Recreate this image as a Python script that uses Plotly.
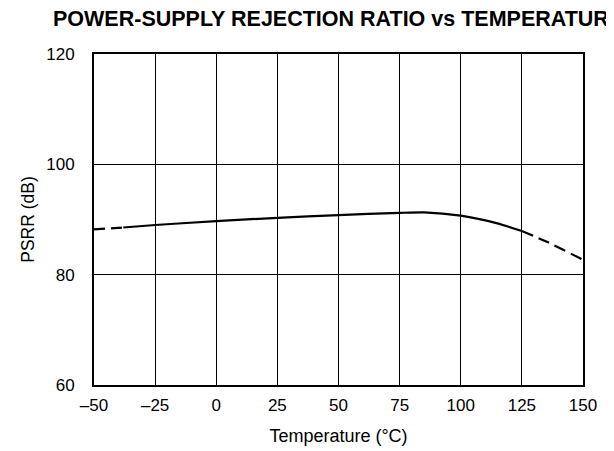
import plotly.graph_objects as go

temps = [-50, -38, -25, 0, 25, 50, 75, 85, 100, 115, 125, 135, 150]
psrr = [88.2, 88.55, 89.0, 89.7, 90.3, 90.8, 91.2, 91.3, 90.7, 89.3, 87.9, 86.0, 82.7]
x_ticks = [-50, -25, 0, 25, 50, 75, 100, 125, 150]
x_tick_text = ["–50", "–25", "0", "25", "50", "75", "100", "125", "150"]
y_ticks = [60, 80, 100, 120]

fig = go.Figure()
segs = [(0, 2, "11px,6px"), (1, 11, "solid"), (10, 13, "12px,6px")]
for a, b, d in segs:
    fig.add_trace(go.Scatter(x=temps[a:b], y=psrr[a:b], mode="lines",
                             line=dict(color="black", width=2.2, dash=d, shape="spline", smoothing=0.6),
                             showlegend=False, hoverinfo="skip"))

font = "Liberation Sans, Arial, sans-serif"
W, H = 606, 443
L, R, T, B = 86, 31, 46, 66
pw, ph = W - L - R, H - T - B
fig.update_layout(
    width=W, height=H,
    margin=dict(l=L, r=R, t=T, b=B, autoexpand=False),
    paper_bgcolor="white", plot_bgcolor="white",
    font=dict(family=font, size=17, color="black"),
    annotations=[dict(text="<b>POWER-SUPPLY REJECTION RATIO vs TEMPERATURE</b>",
                      xref="paper", yref="paper", x=(43 - L) / pw, y=1 + (T - 11) / ph,
                      xanchor="left", yanchor="middle", showarrow=False,
                      font=dict(size=21.5, family=font, color="black"))],
)
fig.update_xaxes(range=[-50, 150], tickvals=x_ticks, ticktext=x_tick_text,
                 showgrid=True, gridcolor="black", gridwidth=1,
                 showline=True, linecolor="black", linewidth=2, mirror=True,
                 zeroline=False, ticks="", ticklabelstandoff=4, automargin=False,
                 title=dict(text="Temperature (°C)", standoff=15, font=dict(size=18)))
fig.update_yaxes(range=[60, 120], tickvals=y_ticks,
                 showgrid=True, gridcolor="black", gridwidth=1,
                 showline=True, linecolor="black", linewidth=2, mirror=True,
                 zeroline=False, ticks="", ticklabelstandoff=14, automargin=False,
                 title=dict(text="PSRR (dB)", standoff=7, font=dict(size=17.5)))

fig.write_html("out.html")
